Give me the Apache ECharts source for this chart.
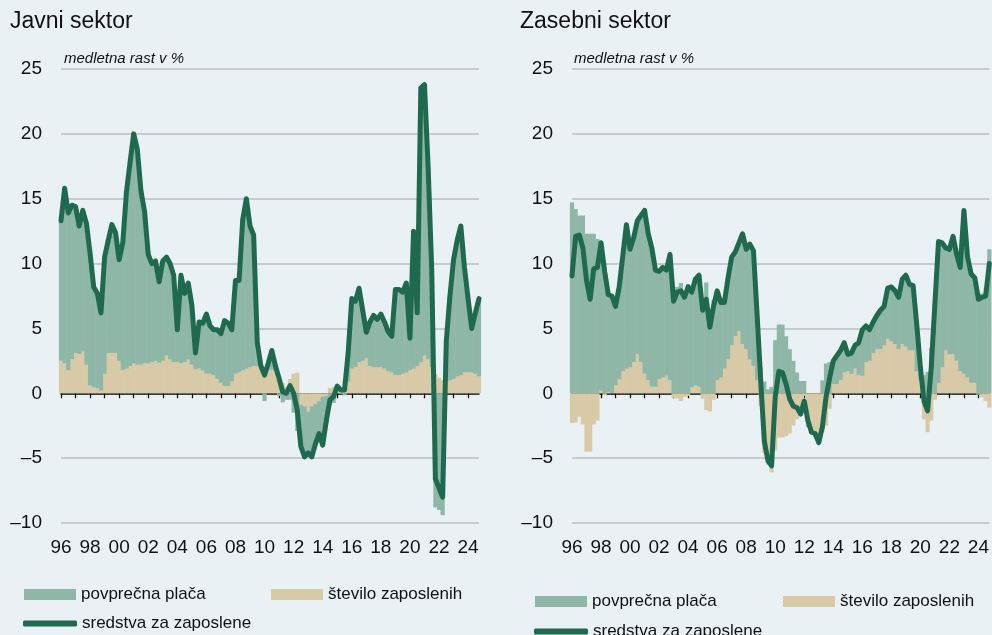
<!DOCTYPE html>
<html>
<head>
<meta charset="utf-8">
<script src="https://cdn.jsdelivr.net/npm/echarts@6/dist/echarts.min.js"></script>
<style>
  html, body { margin: 0; padding: 0; background: #e9f1f5; }
  #chart { width: 992px; height: 635px; }
</style>
</head>
<body>
<div id="chart"></div>
<script>
// quarterly data, 1996Q1 - 2024Q4
var years = [1996, 1997, 1998, 1999, 2000, 2001, 2002, 2003, 2004, 2005,
  2006, 2007, 2008, 2009, 2010, 2011, 2012, 2013, 2014, 2015,
  2016, 2017, 2018, 2019, 2020, 2021, 2022, 2023, 2024];

// Javni sektor
var pubWage = [
  10.8, 13.5, 12.2, 11.9, 11.3, 9.9, 10.9, 10.9,
  10.2, 7.8, 7.3, 6.0, 9.0, 8.7, 9.9, 9.3,
  7.8, 9.8, 13.6, 15.7, 17.7, 16.6, 13.4, 11.7,
  8.4, 7.6, 7.7, 6.3, 7.7, 7.6, 7.4, 6.7,
  2.5, 6.8, 5.3, 5.9, 4.6, 1.3, 3.6, 3.7,
  4.6, 3.7, 3.5, 3.8, 3.8, 5.1, 4.9, 4.0,
  7.2, 7.1, 11.7, 13.1, 10.9, 10.1, 1.8, 0.1,
  -0.6, 0.4, 1.5, 0.4, -0.2, -0.7, -0.5, -0.5,
  -1.5, -2.9, -3.2, -3.9, -3.2, -3.9, -3.1, -2.5,
  -3.7, -1.9, -0.9, -0.75, 0.05, -0.05, -0.15, 2.2,
  5.4, 5.1, 5.7, 3.9, 2.0, 3.4, 4.0, 3.7,
  4.1, 3.6, 3.05, 2.8, 6.6, 6.6, 6.3, 6.9,
  2.45, 10.6, 4.1, 21.15, 20.9, 14.9, 7.5, -8.8,
  -9.0, -9.4, 3.1, 6.5, 9.2, 10.5, 11.5, 8.1,
  5.7, 3.4, 4.7, 6.0
];
var pubEmp = [
  2.5, 2.3, 1.75, 2.6, 3.1, 3.0, 3.2, 2.2,
  0.6, 0.45, 0.4, 0.2, 1.5, 3.1, 3.1, 3.1,
  2.5, 1.8, 1.9, 2.1, 2.3, 2.2, 2.2, 2.3,
  2.3, 2.4, 2.5, 2.35, 2.5, 2.9, 2.6, 2.4,
  2.4, 2.3, 2.4, 2.6, 2.2, 1.85, 1.9, 1.75,
  1.5, 1.5, 1.4, 1.1, 0.8, 0.55, 0.55, 0.9,
  1.5, 1.6, 1.75, 1.9, 2.0, 2.1, 2.1, 2.0,
  2.0, 1.9, 1.8, 1.7, 1.3, 0.8, 0.5, 1.1,
  1.5, 1.6, -0.9, -1.0, -1.4, -1.0, -0.8, -0.6,
  -0.3, -0.2, 0.4, 0.5, 0.5, 0.3, 0.4, 0.9,
  1.9, 2.0, 2.4, 2.5, 2.7, 2.1, 2.0, 2.0,
  2.0, 1.9, 1.7, 1.6, 1.4, 1.4, 1.5, 1.6,
  1.8, 1.9, 2.1, 2.4, 2.9, 2.6, 2.0, 1.5,
  1.2, 1.0, 0.9, 1.0, 1.1, 1.3, 1.4, 1.6,
  1.6, 1.6, 1.5, 1.3
];
var pubComp = [
  13.3, 15.8, 13.9, 14.5, 14.4, 12.9, 14.1, 13.1,
  10.8, 8.2, 7.7, 6.2, 10.5, 11.8, 13.0, 12.4,
  10.3, 11.6, 15.5, 17.8, 20.0, 18.8, 15.6, 14.0,
  10.7, 10.0, 10.2, 8.6, 10.2, 10.5, 10.0, 9.1,
  4.9, 9.1, 7.7, 8.5, 6.8, 3.1, 5.5, 5.4,
  6.1, 5.2, 4.9, 4.9, 4.6, 5.6, 5.4, 4.9,
  8.7, 8.7, 13.4, 15.0, 12.9, 12.2, 3.9, 2.1,
  1.4, 2.3, 3.3, 2.1, 1.15, 0.1, 0.0, 0.6,
  0.0, -1.3, -4.1, -4.9, -4.6, -4.9, -3.9, -3.1,
  -4.0, -2.1, -0.5, -0.25, 0.55, 0.25, 0.25, 3.1,
  7.3, 7.1, 8.1, 6.4, 4.7, 5.5, 6.0, 5.7,
  6.1, 5.5, 4.75, 4.4, 8.0, 8.0, 7.8, 8.5,
  4.25, 12.5, 6.2, 23.55, 23.8, 17.5, 9.5, -6.6,
  -7.3, -8.0, 4.0, 7.5, 10.3, 11.8, 12.9, 9.7,
  7.3, 5.0, 6.2, 7.3
];

// Zasebni sektor
var privWage = [
  14.7, 14.2, 13.7, 13.7, 12.3, 12.3, 12.3, 11.9,
  11.4, 9.55, 7.5, 7.5, 6.1, 7.1, 8.9, 11.1,
  9.1, 9.6, 10.3, 11.3, 12.6, 11.2, 10.7, 9.0,
  8.3, 8.5, 8.15, 9.7, 7.45, 8.2, 8.5, 7.7,
  8.4, 7.35, 8.2, 8.6, 6.8, 8.55, 6.5, 7.2,
  6.9, 5.8, 5.1, 6.3, 6.8, 6.5, 6.8, 8.5,
  7.7, 8.9, 8.9, 5.1, 2.0, 0.9, 0.3, 0.5,
  4.1, 5.3, 5.3, 4.4, 3.4, 2.5, 1.6, 0.95,
  0.95, -0.2, -0.3, -0.3, -0.2, 1.0, 2.3, 2.4,
  1.8, 2.2, 2.3, 2.3, 1.3, 1.6, 1.8, 2.5,
  3.55, 2.8, 2.4, 2.4, 2.6, 3.0, 3.0, 3.9,
  4.2, 4.1, 4.0, 5.0, 5.5, 5.1, 5.0, 3.6,
  1.0, 1.4, 1.65, 3.5, 7.0, 10.9, 9.6, 7.9,
  8.1, 9.1, 8.2, 8.0, 12.6, 9.3, 8.4, 8.1,
  7.35, 7.7, 8.1, 11.1
];
var privEmp = [
  -2.3, -2.25, -1.8, -2.4, -4.5, -4.5, -2.4, -2.1,
  0.2, -0.15, 0.1, 0.0, 0.6, 1.1, 1.7, 1.9,
  2.0, 2.4, 3.0, 2.4, 1.5, 1.0, 0.5, 0.5,
  1.1, 1.2, 1.35, 1.0, -0.35, -0.4, -0.6, -0.3,
  -0.2, 0.45, 0.6, 0.5, -0.4, -1.3, -1.4, -0.5,
  1.0, 1.2, 1.9, 2.6, 3.7, 4.4, 4.8, 3.8,
  3.4, 2.6, 2.1, 1.0, -1.0, -4.6, -5.5, -6.1,
  -4.4, -3.4, -3.4, -3.3, -3.1, -2.5, -2.0, -1.4,
  -0.2, -2.4, -2.8, -3.1, -3.7, -3.0, -2.5, -1.2,
  0.7, 0.7, 1.0, 1.6, 1.7, 1.5, 1.9, 1.4,
  1.35, 2.4, 2.5, 3.1, 3.4, 3.4, 3.7, 4.2,
  4.0, 3.8, 3.4, 3.8, 3.6, 3.3, 3.3, 1.7,
  1.0, -2.0, -3.0, -2.1, -0.5, 0.8, 2.0, 3.3,
  3.0, 3.0, 2.5, 1.7, 1.5, 1.2, 0.8, 0.8,
  -0.1, -0.3, -0.6, -1.1
];
var privComp = [
  9.05, 12.1, 12.2, 11.2, 8.7, 7.25, 9.6, 9.7,
  11.6, 9.4, 7.6, 7.5, 6.7, 8.2, 10.6, 13.0,
  11.1, 12.0, 13.3, 13.7, 14.1, 12.3, 11.2, 9.5,
  9.4, 9.7, 9.5, 10.7, 7.1, 7.8, 7.9, 7.4,
  8.2, 7.8, 8.8, 9.1, 6.4, 7.25, 5.1, 6.7,
  7.9, 7.0, 7.0, 8.9, 10.5, 10.9, 11.6, 12.3,
  11.1, 11.5, 11.0, 6.1, 1.0, -3.7, -5.2, -5.6,
  -0.3, 1.7, 1.6, 0.7, -0.45, -1.0, -1.1, -1.6,
  -0.6, -2.1, -3.0, -3.1, -3.8, -2.6, -0.3, 1.2,
  2.5, 2.9, 3.3, 3.9, 3.0, 3.1, 3.7, 3.9,
  4.9, 5.2, 4.9, 5.5, 6.0, 6.4, 6.7, 8.1,
  8.2, 7.9, 7.4, 8.8, 9.1, 8.4, 8.3, 5.3,
  2.0, -0.6, -1.35, 2.0, 6.9, 11.7, 11.6, 11.2,
  11.1, 12.1, 10.7, 9.7, 14.1, 10.5, 9.2, 8.9,
  7.25, 7.4, 7.5, 10.0
];

var quarters = [];
years.forEach(function (y) {
  ['Q1', 'Q2', 'Q3', 'Q4'].forEach(function (q) { quarters.push(y + q); });
});

var SANS = "'Liberation Sans', Arial, sans-serif";
var GREEN = '#8fb7a7', BEIGE = '#d8caa6', LINE = '#1f6a4f';
var NAMES = ['povprečna plača', 'število zaposlenih', 'sredstva za zaposlene'];

function isQ1(v) { return v.slice(4) === 'Q1'; }

function zeroAxis(grid) {
  return {
    type: 'category', gridIndex: grid, data: quarters, boundaryGap: false,
    position: 'bottom',
    axisLine: { onZero: true, lineStyle: { color: '#111', width: 1.5 } },
    axisTick: { length: 5, lineStyle: { color: '#111', width: 1.3 },
      interval: function (i, v) { return isQ1(v); } },
    axisLabel: { show: false }
  };
}
function labelAxis(grid) {
  return {
    type: 'category', gridIndex: grid, data: quarters, boundaryGap: false,
    position: 'bottom',
    axisLine: { show: false, onZero: false },
    axisTick: { show: false },
    axisLabel: {
      margin: 15, fontSize: 19, color: '#111', fontFamily: SANS,
      interval: function (i, v) { return isQ1(v) && (+v.slice(0, 4)) % 2 === 0; },
      formatter: function (v) { return v.slice(2, 4); }
    }
  };
}
function valueAxis(grid) {
  return {
    type: 'value', gridIndex: grid, min: -10, max: 25, interval: 5,
    axisLine: { show: false }, axisTick: { show: false },
    splitLine: { lineStyle: { color: '#bdbdbd', width: 1.5 } },
    axisLabel: {
      margin: 19, fontSize: 19, color: '#111', fontFamily: SANS,
      formatter: function (v) { return v < 0 ? '\u2013' + Math.abs(v) : String(v); }
    }
  };
}
function panelSeries(xi, yi, wage, emp, comp) {
  return [
    { name: NAMES[1], type: 'bar', stack: 's' + yi, xAxisIndex: xi, yAxisIndex: yi,
      data: emp, barWidth: 4.2, itemStyle: { color: BEIGE } },
    { name: NAMES[0], type: 'bar', stack: 's' + yi, xAxisIndex: xi, yAxisIndex: yi,
      data: wage, barWidth: 4.2, itemStyle: { color: GREEN } },
    { name: NAMES[2], type: 'line', xAxisIndex: xi, yAxisIndex: yi, data: comp,
      symbol: 'none', z: 5, clip: false,
      lineStyle: { color: LINE, width: 5, cap: 'round', join: 'round' } }
  ];
}
function legendItem(name, left, top, isLine) {
  var l = {
    data: [name], left: left, top: top, padding: 0, selectedMode: false,
    itemWidth: 52, itemHeight: 11, icon: 'rect',
    textStyle: { fontSize: 17, color: '#111', fontFamily: SANS }
  };
  if (isLine) {
    l.icon = 'roundRect';
    l.itemWidth = 54;
    l.itemHeight = 6;
    l.itemStyle = { color: LINE };
  }
  return l;
}
function titleItem(text, left, top, size, italic) {
  return {
    text: text, left: left, top: top, padding: 0,
    textStyle: { fontSize: size, fontWeight: 'normal', fontStyle: italic ? 'italic' : 'normal',
      color: '#111', fontFamily: SANS }
  };
}

var chart = echarts.init(document.getElementById('chart'));
chart.setOption({
  backgroundColor: '#e9f1f5',
  animation: false,
  title: [
    titleItem('Javni sektor', 10, 10, 23, false),
    titleItem('medletna rast v %', 64, 51, 15, true),
    titleItem('Zasebni sektor', 520, 10, 23, false),
    titleItem('medletna rast v %', 574, 51, 15, true)
  ],
  legend: [
    legendItem(NAMES[0], 24, 586, false),
    legendItem(NAMES[1], 271, 586, false),
    legendItem(NAMES[2], 23, 615, true),
    legendItem(NAMES[0], 535, 593, false),
    legendItem(NAMES[1], 783, 593, false),
    legendItem(NAMES[2], 534, 623, true)
  ],
  grid: [
    { left: 61, top: 69, width: 418, height: 454 },
    { left: 572, top: 69, width: 420, height: 454 }
  ],
  xAxis: [zeroAxis(0), labelAxis(0), zeroAxis(1), labelAxis(1)],
  yAxis: [valueAxis(0), valueAxis(1)],
  series: panelSeries(0, 0, pubWage, pubEmp, pubComp)
    .concat(panelSeries(2, 1, privWage, privEmp, privComp))
});
</script>
</body>
</html>
